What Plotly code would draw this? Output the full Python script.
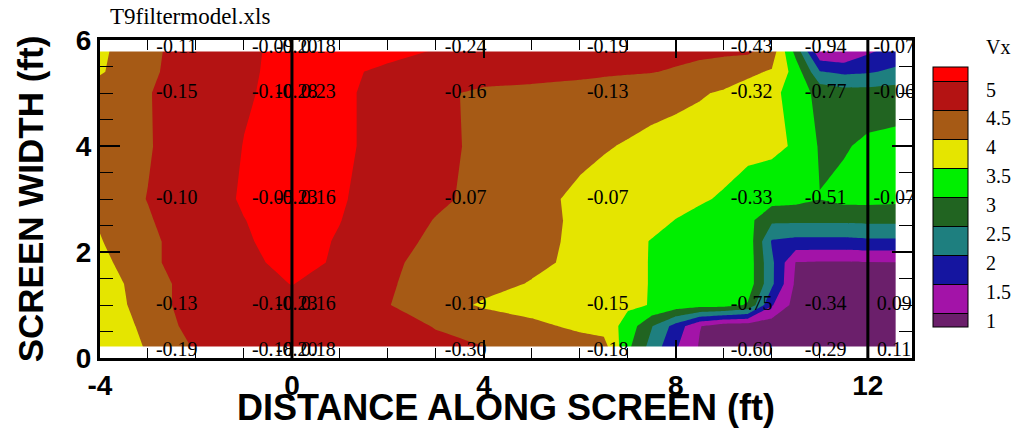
import plotly.graph_objects as go

# ---- data (Vx field) ----
x_nodes = [-4, -3, -2, -1, 0, 1, 2, 3, 4, 5, 6, 6.5, 7, 7.5, 8, 8.5, 9, 9.5, 10, 10.5, 11, 11.5, 12, 12.6]
y_nodes = [0.2, 0.6, 1.0, 1.4, 1.8, 2.2, 2.6, 3.0, 4.0, 5.0, 5.4, 5.8]

vx_y02 = [3.55, 4.05, 4.55, 4.70, 4.75, 4.72, 4.65, 4.60, 4.51, 4.35, 4.25, 4.20, 3.10, 2.30, 1.55, 0.95, 0.70, 0.68, 0.66, 0.65, 0.65, 0.65, 0.70, 0.75]
vx_y06 = [3.60, 4.14, 4.70, 4.78, 4.82, 4.78, 4.66, 4.48, 4.30, 4.12, 3.90, 3.80, 3.30, 2.52, 1.80, 1.02, 0.72, 0.70, 0.68, 0.68, 0.66, 0.66, 0.70, 0.75]
vx_y10 = [3.60, 4.30, 4.70, 4.82, 4.90, 4.82, 4.52, 4.20, 3.94, 3.80, 3.70, 3.62, 3.58, 3.48, 3.30, 3.22, 3.20, 2.95, 1.55, 0.80, 0.72, 0.70, 0.74, 0.80]
vx_y14 = [3.70, 4.30, 4.70, 4.85, 5.01, 4.85, 4.55, 4.30, 4.15, 3.97, 3.85, 3.76, 3.60, 3.48, 3.35, 3.25, 3.20, 3.30, 2.10, 0.90, 0.80, 0.80, 0.85, 0.90]
vx_y18 = [3.85, 4.40, 4.75, 4.90, 5.12, 4.95, 4.58, 4.35, 4.25, 4.10, 3.90, 3.80, 3.60, 3.48, 3.35, 3.25, 3.18, 3.30, 2.10, 0.98, 0.95, 0.95, 0.97, 0.98]
vx_y22 = [3.97, 4.42, 4.70, 4.95, 5.18, 4.96, 4.68, 4.40, 4.28, 4.12, 3.92, 3.80, 3.62, 3.48, 3.35, 3.25, 3.17, 3.30, 1.95, 1.85, 1.85, 1.85, 1.90, 1.90]
vx_y26 = [4.05, 4.47, 4.72, 4.99, 5.20, 5.01, 4.73, 4.48, 4.32, 4.13, 3.93, 3.83, 3.72, 3.62, 3.49, 3.38, 3.28, 3.15, 2.60, 2.60, 2.60, 2.60, 2.62, 2.62]
vx_y30 = [4.30, 4.51, 4.75, 5.05, 5.22, 5.04, 4.80, 4.58, 4.38, 4.12, 3.92, 3.85, 3.78, 3.72, 3.64, 3.55, 3.45, 3.30, 3.20, 3.15, 3.01, 3.15, 3.15, 3.12]
vx_y40 = [4.30, 4.47, 4.75, 5.01, 5.15, 5.08, 4.85, 4.62, 4.40, 4.25, 4.10, 4.03, 3.97, 3.90, 3.85, 3.78, 3.70, 3.62, 3.60, 3.45, 2.95, 2.95, 3.10, 3.15]
vx_y50 = [4.25, 4.48, 4.72, 4.96, 5.12, 5.08, 4.85, 4.60, 4.40, 4.35, 4.30, 4.25, 4.20, 4.15, 4.10, 4.04, 3.95, 3.80, 3.65, 3.25, 2.85, 2.70, 2.70, 2.75]
vx_y54 = [3.95, 4.40, 4.80, 4.96, 5.08, 5.10, 4.90, 4.80, 4.75, 4.70, 4.62, 4.58, 4.55, 4.52, 4.45, 4.35, 4.25, 4.10, 3.95, 3.30, 2.02, 1.90, 1.95, 2.10]
vx_y58 = [3.91, 4.36, 4.81, 4.95, 5.08, 5.20, 5.15, 4.98, 4.85, 4.80, 4.75, 4.72, 4.70, 4.68, 4.65, 4.62, 4.60, 4.60, 4.30, 2.80, 1.05, 0.95, 1.40, 1.70]

vx_grid = [vx_y02, vx_y06, vx_y10, vx_y14, vx_y18, vx_y22, vx_y26, vx_y30,
           vx_y40, vx_y50, vx_y54, vx_y58]

# labels posted at measurement points (second variable)
label_x = [-2.4, -0.4, 0.1, 0.55, 3.62, 6.58, 9.58, 11.12, 12.55]
label_y = [5.85, 5.0, 3.0, 1.0, 0.13]
label_rows = [
    ["-0.11", "-0.09", "-0.20", "0.18", "-0.24", "-0.19", "-0.43", "-0.94", "-0.07"],
    ["-0.15", "-0.10", "-0.28", "0.23", "-0.16", "-0.13", "-0.32", "-0.77", "-0.06"],
    ["-0.10", "-0.05", "-0.23", "0.16", "-0.07", "-0.07", "-0.33", "-0.51", "-0.07"],
    ["-0.13", "-0.10", "-0.23", "0.16", "-0.19", "-0.15", "-0.75", "-0.34", "0.09"],
    ["-0.19", "-0.18", "-0.20", "0.18", "-0.30", "-0.18", "-0.60", "-0.29", "0.11"],
]

levels_start, levels_end, levels_size = 1.0, 5.0, 0.5
band_colors = ["#6b1f6b", "#a313a8", "#1515a0", "#1e7f7f", "#216421",
               "#00ef00", "#e5e500", "#a65a15", "#b41313", "#ff0000"]
cbar_ticks = [1, 1.5, 2, 2.5, 3, 3.5, 4, 4.5, 5]
cbar_text = ["1", "1.5", "2", "2.5", "3", "3.5", "4", "4.5", "5"]
x_ticks = [-4, 0, 4, 8, 12]
y_ticks = [0, 2, 4, 6]
screen_lines_x = [0, 12]

colorscale = [[i / (len(band_colors) - 1), c] for i, c in enumerate(band_colors)]
label_shift = 0.14  # colour-key labels sit slightly below their level

fig = go.Figure()

contours = dict(start=levels_start, end=levels_end, size=levels_size, coloring="fill")

fig.add_trace(go.Contour(
    x=x_nodes, y=y_nodes, z=vx_grid,
    contours=dict(**contours, showlines=False),
    colorscale=colorscale, showscale=False, line=dict(width=0, smoothing=0),
    hoverinfo="skip",
))

# invisible copy that only provides the colour key (with band separators)
fig.add_trace(go.Contour(
    x=x_nodes, y=y_nodes, z=vx_grid,
    contours=dict(**contours, showlines=True),
    colorscale=colorscale, opacity=0, line=dict(width=1, color="black", smoothing=0),
    hoverinfo="skip",
    colorbar=dict(
        thickness=35, len=260, lenmode="pixels",
        x=933 / 1019, xref="container", xanchor="left", xpad=0,
        y=(358 - 197) / 318, yanchor="middle", ypad=0,
        outlinewidth=1, outlinecolor="black",
        tickvals=[t - label_shift for t in cbar_ticks], ticktext=cbar_text,
        ticks="outside", ticklen=14, tickcolor="rgba(0,0,0,0)",
        tickfont=dict(family="Liberation Serif", size=20, color="black"),
    ),
))

# clean white edge around the gridded area (hides anti-aliasing seams)
x_lo, x_hi, y_lo, y_hi = x_nodes[0], x_nodes[-1], y_nodes[0], y_nodes[-1]
fig.add_trace(go.Scatter(
    x=[x_lo, x_hi, x_hi, x_lo], y=[y_hi, y_hi, y_lo, y_lo], mode="lines",
    line=dict(color="white", width=2), hoverinfo="skip", showlegend=False,
))

lx, ly, lt = [], [], []
for yy, row in zip(label_y, label_rows):
    for xx, t in zip(label_x, row):
        lx.append(xx)
        ly.append(yy)
        lt.append(t)
fig.add_trace(go.Scatter(
    x=lx, y=ly, text=lt, mode="text", textposition="middle center",
    textfont=dict(family="Liberation Serif", size=20, color="black"),
    hoverinfo="skip", showlegend=False,
))

for sx in screen_lines_x:
    fig.add_shape(type="line", x0=sx, x1=sx, y0=0, y1=1, xref="x", yref="paper",
                  line=dict(color="black", width=3))

axis_common = dict(
    showgrid=False, zeroline=False, showline=True, linecolor="black", linewidth=3,
    mirror="ticks", ticks="inside", tickcolor="black", tickwidth=2, automargin=False,
    tickfont=dict(family="Liberation Sans", size=28, color="black", weight="bold"),
)

fig.update_xaxes(
    range=[-4, 12.92], tickvals=x_ticks, ticktext=[str(v) for v in x_ticks], ticklen=18,
    minor=dict(ticks="inside", dtick=1, tick0=0, ticklen=10, tickwidth=1, tickcolor="black"),
    title=dict(text="DISTANCE ALONG SCREEN (ft)", standoff=0,
               font=dict(family="Liberation Sans", size=36, color="black", weight="bold")),
    **axis_common,
)
fig.update_yaxes(
    range=[0, 6], tickvals=y_ticks, ticktext=[str(v) for v in y_ticks], ticklen=20,
    minor=dict(ticks="inside", dtick=0.5, tick0=0, ticklen=13, tickwidth=1, tickcolor="black"),
    title=dict(text="SCREEN WIDTH (ft)", standoff=22,
               font=dict(family="Liberation Sans", size=35, color="black", weight="bold")),
    **axis_common,
)

fig.add_annotation(
    text="T9filtermodel.xls", x=8 / 812, y=1 + 23 / 318, xref="paper", yref="paper",
    xanchor="left", yanchor="middle", showarrow=False,
    font=dict(family="Liberation Serif", size=23, color="black"),
)
fig.add_annotation(
    text="Vx", x=(984 - 100) / 812, y=(358 - 47) / 318, xref="paper", yref="paper",
    xanchor="left", yanchor="middle", showarrow=False,
    font=dict(family="Liberation Serif", size=20, color="black"),
)

fig.update_layout(
    width=1019, height=428, margin=dict(l=100, r=107, t=40, b=70),
    paper_bgcolor="white", plot_bgcolor="white", showlegend=False,
)

fig.write_html("out.html")
